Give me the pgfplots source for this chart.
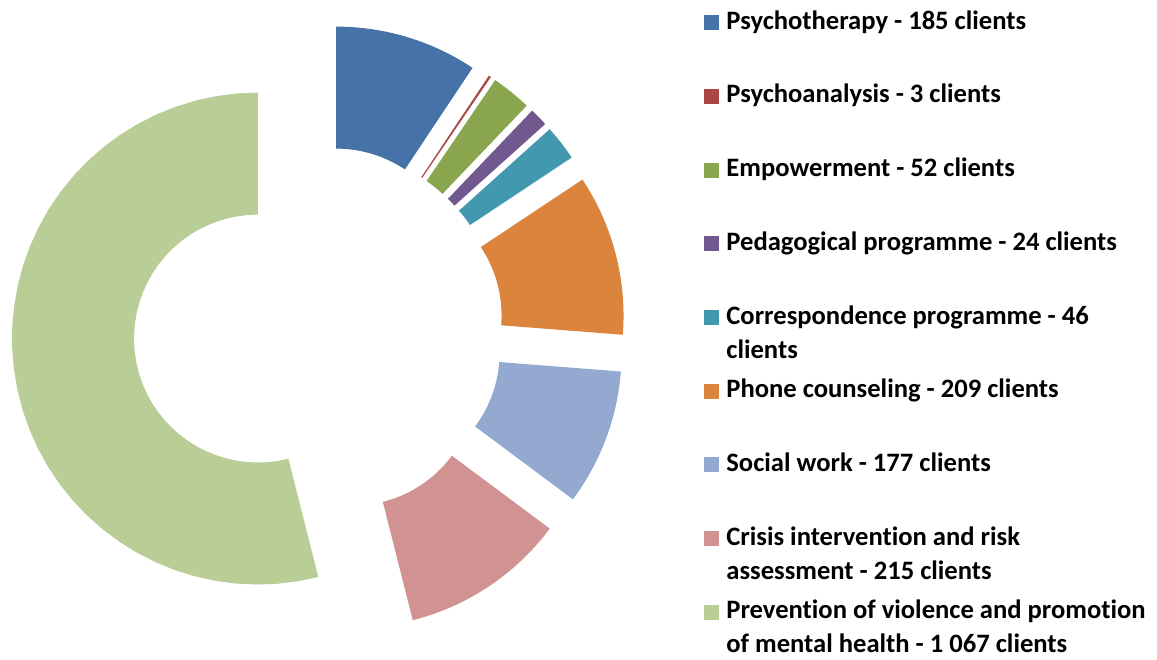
\documentclass[border=0pt]{standalone}
\usepackage{fontspec}
\setmainfont{Carlito}[Ligatures=NoCommon]
\usepackage{pgfplots}
\pgfplotsset{compat=1.18}

\definecolor{c1}{HTML}{4572A7}
\definecolor{c2}{HTML}{AA4643}
\definecolor{c3}{HTML}{89A54E}
\definecolor{c4}{HTML}{71588F}
\definecolor{c5}{HTML}{4198AF}
\definecolor{c6}{HTML}{DB843D}
\definecolor{c7}{HTML}{93A9CF}
\definecolor{c8}{HTML}{D19392}
\definecolor{c9}{HTML}{B9CD96}

% donut geometry (axis units = pixels of the reference)
\pgfmathsetmacro\total{185+3+52+24+46+209+177+215+1067}
\xdef\cum{0}
\newcommand\slice[2]{%
  \pgfmathsetmacro\aone{90-360/\total*\cum}%
  \pgfmathsetmacro\atwo{90-360/\total*(\cum+#1)}%
  \pgfmathsetmacro\amid{(\aone+\atwo)/2}%
  \pgfmathsetmacro\cx{318.5+61*cos(\amid)}%
  \pgfmathsetmacro\cy{328+61*sin(\amid)}%
  \addplot[fill=#2, draw=none, samples at={0,...,81}, variable=\k]
    ({\cx + ifthenelse(\k<=40, 246*cos(\aone+(\atwo-\aone)*\k/40), 124*cos(\atwo-(\atwo-\aone)*(\k-41)/40))},
     {\cy + ifthenelse(\k<=40, 246*sin(\aone+(\atwo-\aone)*\k/40), 124*sin(\atwo-(\atwo-\aone)*(\k-41)/40))});
  \pgfmathsetmacro\newcum{\cum+#1}%
  \xdef\cum{\newcum}%
}

\begin{document}
\begin{tikzpicture}
\begin{axis}[
  name=ax,
  hide axis, scale only axis,
  width=578.5pt, height=329.5pt,
  xmin=0, xmax=1157, ymin=0, ymax=659,
  clip=false,
]
\slice{185}{c1}
\slice{3}{c2}
\slice{52}{c3}
\slice{24}{c4}
\slice{46}{c5}
\slice{209}{c6}
\slice{177}{c7}
\slice{215}{c8}
\slice{1067}{c9}

% legend
\begin{scope}[every node/.style={inner sep=0pt, font=\fontsize{13.3}{16}\selectfont\bfseries}]
\node[fill=c1, minimum size=7.5pt] at (711.5,636.2) {};
\node[anchor=base west] at (726,629.7) {Psychotherapy - 185 clients};
\node[fill=c2, minimum size=7.5pt] at (711.5,562.5) {};
\node[anchor=base west] at (726,556.0) {Psychoanalysis - 3 clients};
\node[fill=c3, minimum size=7.5pt] at (711.5,488.8) {};
\node[anchor=base west] at (726,482.3) {Empowerment - 52 clients};
\node[fill=c4, minimum size=7.5pt] at (711.5,415.1) {};
\node[anchor=base west] at (726,408.6) {Pedagogical programme - 24 clients};
\node[fill=c5, minimum size=7.5pt] at (711.5,341.4) {};
\node[anchor=base west] at (726,334.9) {Correspondence programme - 46};
\node[anchor=base west] at (726,300.9) {clients};
\node[fill=c6, minimum size=7.5pt] at (711.5,267.7) {};
\node[anchor=base west] at (726,261.2) {Phone counseling - 209 clients};
\node[fill=c7, minimum size=7.5pt] at (711.5,194.0) {};
\node[anchor=base west] at (726,187.5) {Social work - 177 clients};
\node[fill=c8, minimum size=7.5pt] at (711.5,120.3) {};
\node[anchor=base west] at (726,113.8) {Crisis intervention and risk};
\node[anchor=base west] at (726,79.8) {assessment - 215 clients};
\node[fill=c9, minimum size=7.5pt] at (711.5,46.6) {};
\node[anchor=base west] at (726,40.1) {Prevention of violence and promotion};
\node[anchor=base west] at (726,6.1) {of mental health - 1 067 clients};
\end{scope}
\end{axis}
\pgfresetboundingbox
\path (ax.south west) rectangle (ax.north east);
\end{tikzpicture}
\end{document}
